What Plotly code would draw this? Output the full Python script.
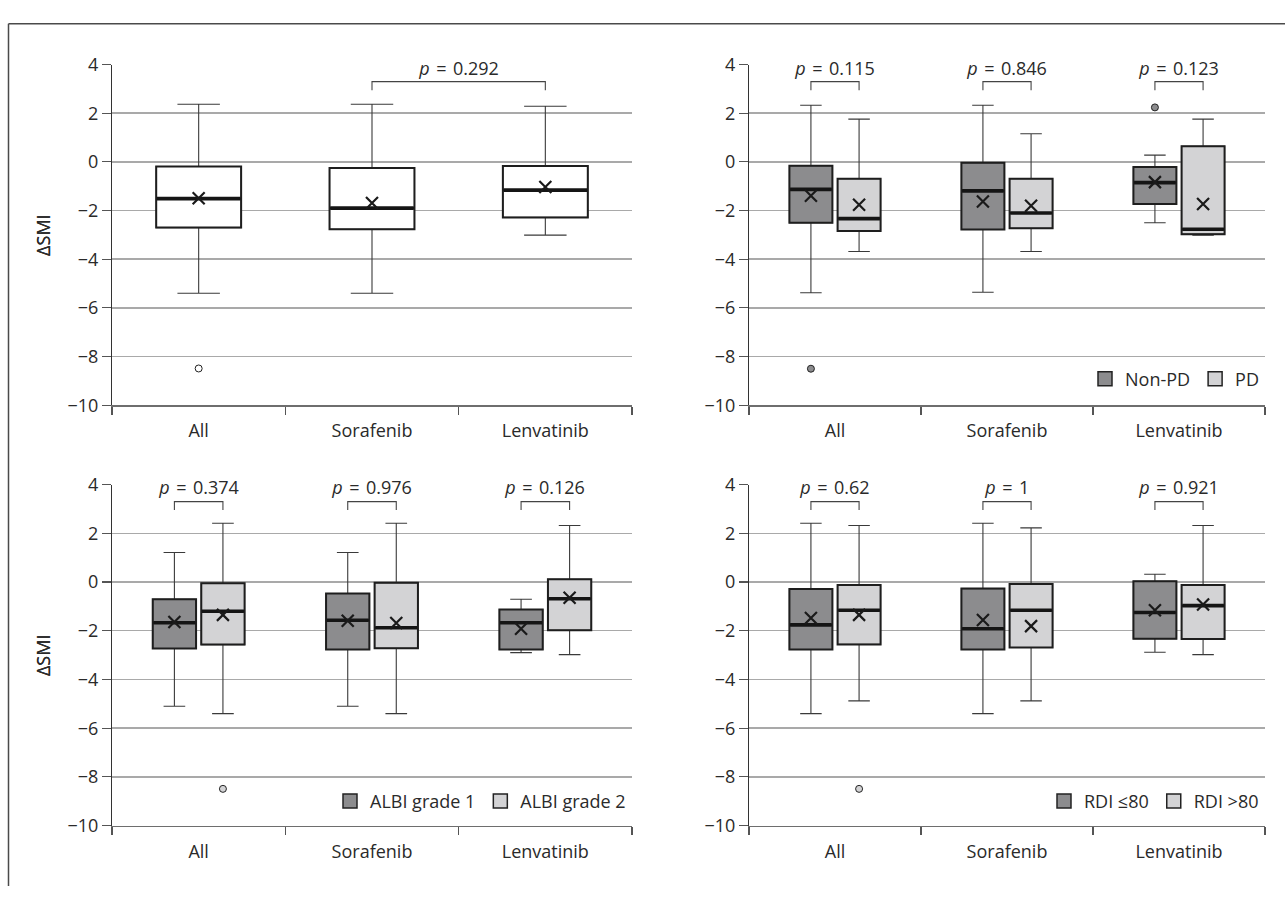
import plotly.graph_objects as go

# ---------------- data ----------------
categories = ["All", "Sorafenib", "Lenvatinib"]
cat_pos = [0, 1, 2]

# Panel A: treatment groups only
a_upper = [2.37, 2.37, 2.29]
a_q3 = [-0.19, -0.25, -0.17]
a_median = [-1.51, -1.90, -1.16]
a_mean = [-1.49, -1.69, -1.03]
a_q1 = [-2.70, -2.77, -2.28]
a_lower = [-5.40, -5.40, -3.01]
a_outliers = [[-8.49], [], []]
a_pvalue = "0.292"

# Panel B: Non-PD vs PD
b_names = ["Non-PD", "PD"]
b1_upper = [2.33, 2.33, 0.28]
b1_q3 = [-0.16, -0.03, -0.21]
b1_median = [-1.13, -1.19, -0.85]
b1_mean = [-1.39, -1.63, -0.83]
b1_q1 = [-2.50, -2.78, -1.73]
b1_lower = [-5.38, -5.36, -2.50]
b1_outliers = [[-8.50], [], [2.24]]
b2_upper = [1.76, 1.16, 1.76]
b2_q3 = [-0.69, -0.69, 0.64]
b2_median = [-2.33, -2.10, -2.77]
b2_mean = [-1.76, -1.80, -1.73]
b2_q1 = [-2.84, -2.73, -2.97]
b2_lower = [-3.68, -3.68, -3.01]
b2_outliers = [[], [], []]
b_pvalues = ["0.115", "0.846", "0.123"]

# Panel C: ALBI grade 1 vs 2
c_names = ["ALBI grade 1", "ALBI grade 2"]
c1_upper = [1.21, 1.21, -0.71]
c1_q3 = [-0.71, -0.47, -1.13]
c1_median = [-1.67, -1.57, -1.67]
c1_mean = [-1.64, -1.59, -1.92]
c1_q1 = [-2.73, -2.77, -2.77]
c1_lower = [-5.10, -5.10, -2.90]
c1_outliers = [[], [], []]
c2_upper = [2.41, 2.41, 2.32]
c2_q3 = [-0.05, -0.03, 0.11]
c2_median = [-1.20, -1.88, -0.69]
c2_mean = [-1.35, -1.68, -0.65]
c2_q1 = [-2.57, -2.72, -1.98]
c2_lower = [-5.40, -5.40, -2.98]
c2_outliers = [[-8.49], [], []]
c_pvalues = ["0.374", "0.976", "0.126"]

# Panel D: RDI <=80 vs >80
d_names = ["RDI \u226480", "RDI >80"]
d1_upper = [2.41, 2.41, 0.32]
d1_q3 = [-0.29, -0.27, 0.03]
d1_median = [-1.76, -1.92, -1.25]
d1_mean = [-1.48, -1.56, -1.16]
d1_q1 = [-2.77, -2.77, -2.33]
d1_lower = [-5.40, -5.40, -2.88]
d1_outliers = [[], [], []]
d2_upper = [2.32, 2.22, 2.32]
d2_q3 = [-0.12, -0.08, -0.12]
d2_median = [-1.16, -1.16, -0.97]
d2_mean = [-1.35, -1.81, -0.92]
d2_q1 = [-2.56, -2.69, -2.34]
d2_lower = [-4.88, -4.88, -2.98]
d2_outliers = [[-8.49], [], []]
d_pvalues = ["0.62", "1", "0.921"]

y_ticks = [-10, -8, -6, -4, -2, 0, 2, 4]

# ---------------- style ----------------
FONT = "Open Sans, Noto Sans, sans-serif"
FS = 18
TXT = "#2a2a2a"
DARK = "#8c8c8e"
LIGHT = "#d3d3d5"
WHITE = "#ffffff"
EDGE = "#1e1e1e"
WHISK = "#3a3a3a"
GRID = "#a9a9a9"
W, H = 1285, 897


def px_x(v):
    return v / W


def px_y(v):
    return 1 - v / H


dom_px_x = [(112, 632), (749, 1265), (112, 632), (749, 1265)]
dom_px_y = [(53, 403), (53, 403), (484.5, 835), (484.5, 835)]

fig = go.Figure()


def axis_refs(i):
    s = "" if i == 0 else str(i + 1)
    return "x" + s, "y" + s


def add_group(i, offset, width, upper, q3, med, mean, q1, lower, outliers, fill):
    xr, yr = axis_refs(i)
    pos = [p + offset for p in cat_pos]
    fig.add_trace(go.Box(
        x=pos, q1=q1, median=med, q3=q3, lowerfence=lower, upperfence=upper,
        width=width, whiskerwidth=0.5, fillcolor=fill,
        line=dict(color=WHISK, width=1.1), boxpoints=False,
        xaxis=xr, yaxis=yr, showlegend=False, hoverinfo="skip"))
    fig.add_trace(go.Box(
        x=pos, q1=q1, median=med, q3=q3, lowerfence=q1, upperfence=q3,
        width=width, whiskerwidth=0, fillcolor="rgba(0,0,0,0)",
        line=dict(color=EDGE, width=2), boxpoints=False,
        xaxis=xr, yaxis=yr, showlegend=False, hoverinfo="skip"))
    mx, my = [], []
    for p, m in zip(pos, med):
        mx += [p - width / 2 + 0.004, p + width / 2 - 0.004, None]
        my += [m, m, None]
    fig.add_trace(go.Scatter(x=mx, y=my, mode="lines",
                             line=dict(color="#151515", width=3.6),
                             xaxis=xr, yaxis=yr, showlegend=False, hoverinfo="skip"))
    ox, oy = [], []
    for p, outs in zip(pos, outliers):
        for v in outs:
            ox.append(p)
            oy.append(v)
    if ox:
        fig.add_trace(go.Scatter(x=ox, y=oy, mode="markers",
                                 marker=dict(symbol="circle", size=7, color=fill,
                                             line=dict(color="#222", width=1)),
                                 xaxis=xr, yaxis=yr, showlegend=False, hoverinfo="skip",
                                 cliponaxis=False))
    fig.add_trace(go.Scatter(x=pos, y=mean, mode="markers",
                             marker=dict(symbol="x-thin", size=12,
                                         line=dict(color="#1a1a1a", width=2.2)),
                             xaxis=xr, yaxis=yr, showlegend=False, hoverinfo="skip"))
    return pos


def add_bracket(i, x1, x2, ptext):
    xr, yr = axis_refs(i)
    fig.add_trace(go.Scatter(x=[x1, x1, x2, x2], y=[2.95, 3.3, 3.3, 2.95], mode="lines",
                             line=dict(color="#444", width=1.1),
                             xaxis=xr, yaxis=yr, showlegend=False, hoverinfo="skip"))
    fig.add_annotation(x=(x1 + x2) / 2, y=3.88, xref=xr, yref=yr,
                       text="\u00a0\u00a0<i>p</i> \u200a=\u200a " + ptext + "\u00a0\u00a0",
                       showarrow=False, bgcolor="white", borderpad=0,
                       font=dict(family=FONT, size=FS, color=TXT),
                       xanchor="center", yanchor="middle")


def add_legend_entries(i, names, fills):
    leg = "legend" + str(i + 1)
    xr, yr = axis_refs(i)
    for n, f in zip(names, fills):
        fig.add_trace(go.Scatter(x=[None], y=[None], mode="markers", name=n,
                                 marker=dict(symbol="square", size=14, color=f,
                                             line=dict(color="#222", width=1.5)),
                                 xaxis=xr, yaxis=yr, legend=leg))


add_group(0, 0.0, 0.49, a_upper, a_q3, a_median, a_mean, a_q1, a_lower, a_outliers, WHITE)
add_bracket(0, 1, 2, a_pvalue)

OFF, BW = 0.14, 0.25
groups = [
    (1, b_names, (b1_upper, b1_q3, b1_median, b1_mean, b1_q1, b1_lower, b1_outliers),
     (b2_upper, b2_q3, b2_median, b2_mean, b2_q1, b2_lower, b2_outliers), b_pvalues),
    (2, c_names, (c1_upper, c1_q3, c1_median, c1_mean, c1_q1, c1_lower, c1_outliers),
     (c2_upper, c2_q3, c2_median, c2_mean, c2_q1, c2_lower, c2_outliers), c_pvalues),
    (3, d_names, (d1_upper, d1_q3, d1_median, d1_mean, d1_q1, d1_lower, d1_outliers),
     (d2_upper, d2_q3, d2_median, d2_mean, d2_q1, d2_lower, d2_outliers), d_pvalues),
]
for i, names, g1, g2, pvals in groups:
    p1 = add_group(i, -OFF, BW, *g1, DARK)
    p2 = add_group(i, OFF, BW, *g2, LIGHT)
    for a, b, pv in zip(p1, p2, pvals):
        add_bracket(i, a, b, pv)
    add_legend_entries(i, names, [DARK, LIGHT])

layout = dict(
    width=W, height=H, margin=dict(l=0, r=0, t=0, b=0),
    paper_bgcolor="white", plot_bgcolor="white",
    font=dict(family=FONT, size=FS, color=TXT),
    showlegend=True,
)
for i in range(4):
    s = "" if i == 0 else str(i + 1)
    x0, x1 = dom_px_x[i]
    y0, y1 = dom_px_y[i]
    layout["xaxis" + s] = dict(
        domain=[px_x(x0), px_x(x1)], range=[-0.5, 2.5], anchor="y" + s,
        tickmode="array", tickvals=cat_pos, ticktext=categories,
        ticks="outside", ticklen=9, tickcolor="rgba(0,0,0,0)",
        showgrid=False, zeroline=False, showline=True, linecolor="#6e6e6e", linewidth=1.6,
        minor=dict(tickmode="array", tickvals=[-0.5, 0.5, 1.5, 2.5], ticks="outside",
                   ticklen=8, tickcolor="#555", tickwidth=1.2, showgrid=False),
        tickfont=dict(family=FONT, size=FS, color=TXT), fixedrange=True,
    )
    layout["yaxis" + s] = dict(
        domain=[px_y(y1), px_y(y0)], range=[-10, 4], anchor="x" + s,
        tickmode="array", tickvals=y_ticks,
        ticktext=[str(v).replace("-", "\u2212") for v in y_ticks],
        ticks="outside", ticklen=9, tickcolor="#555", tickwidth=1.1,
        showgrid=True, gridcolor=GRID, gridwidth=1.5, zeroline=False,
        showline=True, linecolor="#333", linewidth=1.1,
        tickfont=dict(family=FONT, size=FS, color=TXT), fixedrange=True,
    )
    fig.add_annotation(x=px_x(43), y=px_y((y0 + y1) / 2), xref="paper", yref="paper",
                       text="\u0394SMI", textangle=-90, showarrow=False,
                       font=dict(family=FONT, size=FS, color=TXT),
                       xanchor="center", yanchor="middle")

legend_y = [None, 376, 810, 810]
for i in range(1, 4):
    x0, x1 = dom_px_x[i]
    layout["legend" + str(i + 1)] = dict(
        x=px_x(x1 - 1), y=px_y(legend_y[i]), xanchor="right", yanchor="middle",
        xref="paper", yref="paper", orientation="h", bgcolor="rgba(0,0,0,0)",
        font=dict(family=FONT, size=FS, color=TXT), itemwidth=30,
        tracegroupgap=0, borderwidth=0,
    )

fig.update_layout(**layout)

fig.add_shape(type="line", xref="paper", yref="paper", x0=px_x(8.5), x1=1,
              y0=px_y(11), y1=px_y(11), line=dict(color="#4a4a4a", width=1.5))
fig.add_shape(type="line", xref="paper", yref="paper", x0=px_x(8.5), x1=px_x(8.5),
              y0=0, y1=px_y(11), line=dict(color="#4a4a4a", width=1.5))

# pin the graph to the top-left corner of the page (no default body margin)
pin_js = (
    "document.documentElement.style.margin='0';"
    "document.body.style.margin='0';document.body.style.padding='0';"
    "document.body.style.overflow='hidden';"
    "var g=document.getElementById('{plot_id}');"
    "g.style.position='absolute';g.style.left='0px';g.style.top='0px';"
)
fig.write_html("out.html", post_script=pin_js,
               config={"displayModeBar": False, "staticPlot": True})
